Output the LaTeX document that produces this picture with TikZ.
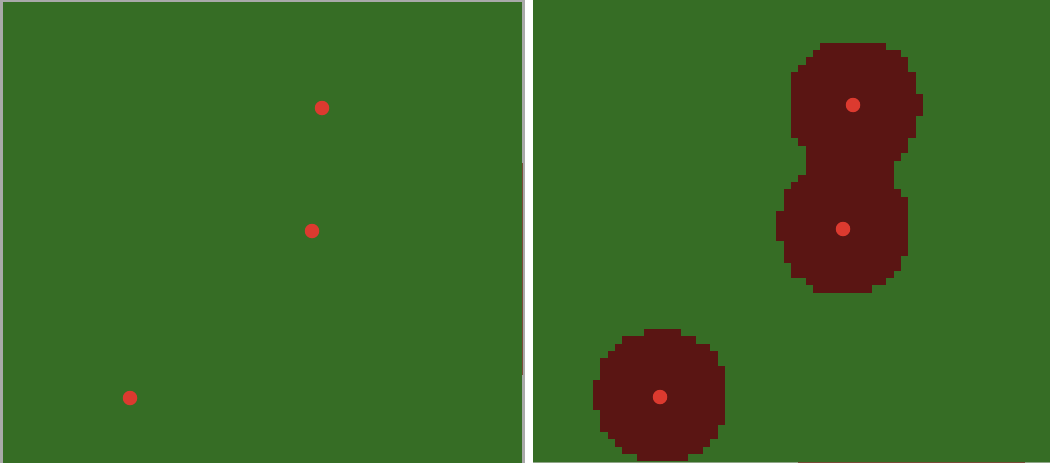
\documentclass[tikz,border=0pt]{standalone}
\definecolor{field}{HTML}{366D25}
\definecolor{blobc}{HTML}{5A1513}
\definecolor{dotc}{HTML}{DC3A2F}
\definecolor{frame}{HTML}{A9A9A9}
\definecolor{edgered}{HTML}{7A4A38}
\definecolor{edgelight}{HTML}{8FA587}
\tikzset{
  dotnode/.style={circle,fill=dotc,draw=none,inner sep=0pt,minimum size=14.5pt},
  blobcell/.style={fill=blobc},
}
\begin{document}
\begin{tikzpicture}[x=1pt,y=-1pt]
\useasboundingbox (0,0) rectangle (1050,463);
\fill[white] (0,0) rectangle (1050,463);
% left panel
\fill[frame] (0,0) rectangle (525,463);
\fill[field] (3.3,2) rectangle (522,463);
\draw[edgered,line width=0.8pt] (522.3,163) -- (522.3,375);
% right panel
\fill[field] (533.3,0) rectangle (1050,463);
\foreach \r/\a/\b in {0/4/12,1/3/14,2/2/15,3/1/15,4/0/16,5/0/16,6/0/16,7/0/17,8/0/17,9/0/17,10/0/16,11/0/16,12/0/16,13/1/15,14/2/15,15/2/14,16/2/13,17/2/13,18/1/13,19/0/13,20/-1/14,21/-1/15,22/-1/15,23/-2/15,24/-2/15,25/-2/15,26/-2/15,27/-1/15,28/-1/15,29/-1/14,30/0/14,31/0/13,32/2/12,33/3/10,
39/-20/-16,40/-23/-14,41/-24/-12,42/-25/-11,43/-26/-11,44/-26/-10,45/-26/-10,46/-27/-10,47/-27/-10,48/-27/-10,49/-27/-10,50/-26/-10,51/-26/-10,52/-26/-11,53/-25/-11,54/-24/-12,55/-23/-13,56/-21/-15}
  \fill[blobcell] ({791+\a*7.34},{42.67+\r*7.34}) rectangle ({791+(\b+1)*7.34},{42.67+(\r+1)*7.34+0.4});
\fill[edgelight] (533.3,462) rectangle (798,463);
\fill[edgered] (798,462) rectangle (1025,463);
\fill[edgelight] (1025,462) rectangle (1050,463);
% dots
\node[dotnode] (l1) at (322,108) {};
\node[dotnode] (l2) at (312,231) {};
\node[dotnode] (l3) at (130,398) {};
\node[dotnode] (r1) at (853,105) {};
\node[dotnode] (r2) at (843,229) {};
\node[dotnode] (r3) at (660,397) {};
\end{tikzpicture}
\end{document}
